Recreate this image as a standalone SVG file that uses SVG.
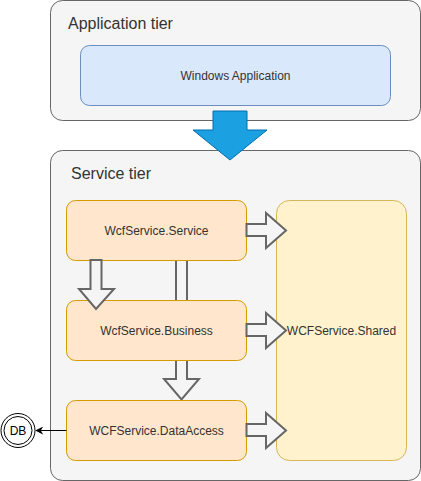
<svg xmlns="http://www.w3.org/2000/svg" width="421" height="481" viewBox="0 0 421 481">
<style>
.tier{fill:#f5f5f5;stroke:#666666;stroke-width:1}
.title{font-family:"Liberation Sans",Arial,sans-serif;font-size:16px;fill:#333333}
.lbl{font-family:"Liberation Sans",Arial,sans-serif;font-size:12px;fill:#333333;text-anchor:middle}
.comp{fill:#ffe6cc;stroke:#d79b00;stroke-width:1}
.shared{fill:#fff2cc;stroke:#d6b656;stroke-width:1}
.app{fill:#dae8fc;stroke:#6c8ebf;stroke-width:1}
.hollow{fill:#f5f5f5;stroke:#666666;stroke-width:2;stroke-linejoin:miter}
</style>
<defs>
<marker id="arr" viewBox="0 0 10 10" refX="9" refY="5" markerWidth="8" markerHeight="8" markerUnits="userSpaceOnUse" orient="auto">
<path d="M0,0 L10,5 L0,10 L3,5 Z" fill="#000000"/>
</marker>
</defs>
<g id="application-tier">
<rect class="tier" x="50.5" y="0.5" width="370" height="120" rx="12"/>
<text class="title" x="68" y="29">Application tier</text>
</g>
<g id="service-tier">
<rect class="tier" x="50.5" y="150.5" width="370" height="330" rx="12"/>
<text class="title" x="71" y="179">Service tier</text>
</g>
<g id="windows-application">
<rect class="app" x="80.5" y="45.5" width="310" height="60" rx="9"/>
<text class="lbl" x="235.5" y="79.5">Windows Application</text>
</g>
<g id="tier-arrow">
<path d="M213,111 L247,111 L247,130 L267,130 L230,160 L193,130 L213,130 Z" fill="#1ba1e2" stroke="#006eaf" stroke-width="1"/>
</g>
<g id="shared">
<rect class="shared" x="276.5" y="200.5" width="130" height="260" rx="13"/>
<text class="lbl" x="341.5" y="334.5">WCFService.Shared</text>
</g>
<g id="connectors-behind">
<path class="hollow" d="M176,260 L187,260 L187,379 L199,379 L181.5,399.5 L164,379 L176,379 Z"/>
</g>
<g id="service">
<rect class="comp" x="66.5" y="200.5" width="180" height="60" rx="9"/>
<text class="lbl" x="156.5" y="234.5">WcfService.Service</text>
</g>
<g id="business">
<rect class="comp" x="66.5" y="300.5" width="180" height="60" rx="9"/>
<text class="lbl" x="156.5" y="334.5">WcfService.Business</text>
</g>
<g id="dataaccess">
<rect class="comp" x="66.5" y="400.5" width="180" height="60" rx="9"/>
<text class="lbl" x="156.5" y="434.5">WCFService.DataAccess</text>
</g>
<g id="db">
<circle cx="18" cy="430.5" r="17" fill="#ffffff" stroke="#000000" stroke-width="1"/>
<circle cx="18" cy="430.5" r="14" fill="#ffffff" stroke="#000000" stroke-width="1"/>
<text class="lbl" x="18" y="434.5" style="fill:#000000">DB</text>
</g>
<g id="connectors">
<path class="hollow" d="M90.5,260 L101.5,260 L101.5,289 L114,289 L96,309 L79,289 L90.5,289 Z"/>
<path class="hollow" d="M246.5,224 L266,224 L266,213 L286,230.5 L266,248 L266,236 L246.5,236 Z"/>
<path class="hollow" d="M246.5,324 L266,324 L266,313 L286,330.5 L266,348 L266,336 L246.5,336 Z"/>
<path class="hollow" d="M246.5,424 L266,424 L266,413 L286,430.5 L266,448 L266,436 L246.5,436 Z"/>
<line x1="66.5" y1="430.5" x2="36" y2="430.5" stroke="#000000" stroke-width="1" marker-end="url(#arr)"/>
</g>
</svg>
